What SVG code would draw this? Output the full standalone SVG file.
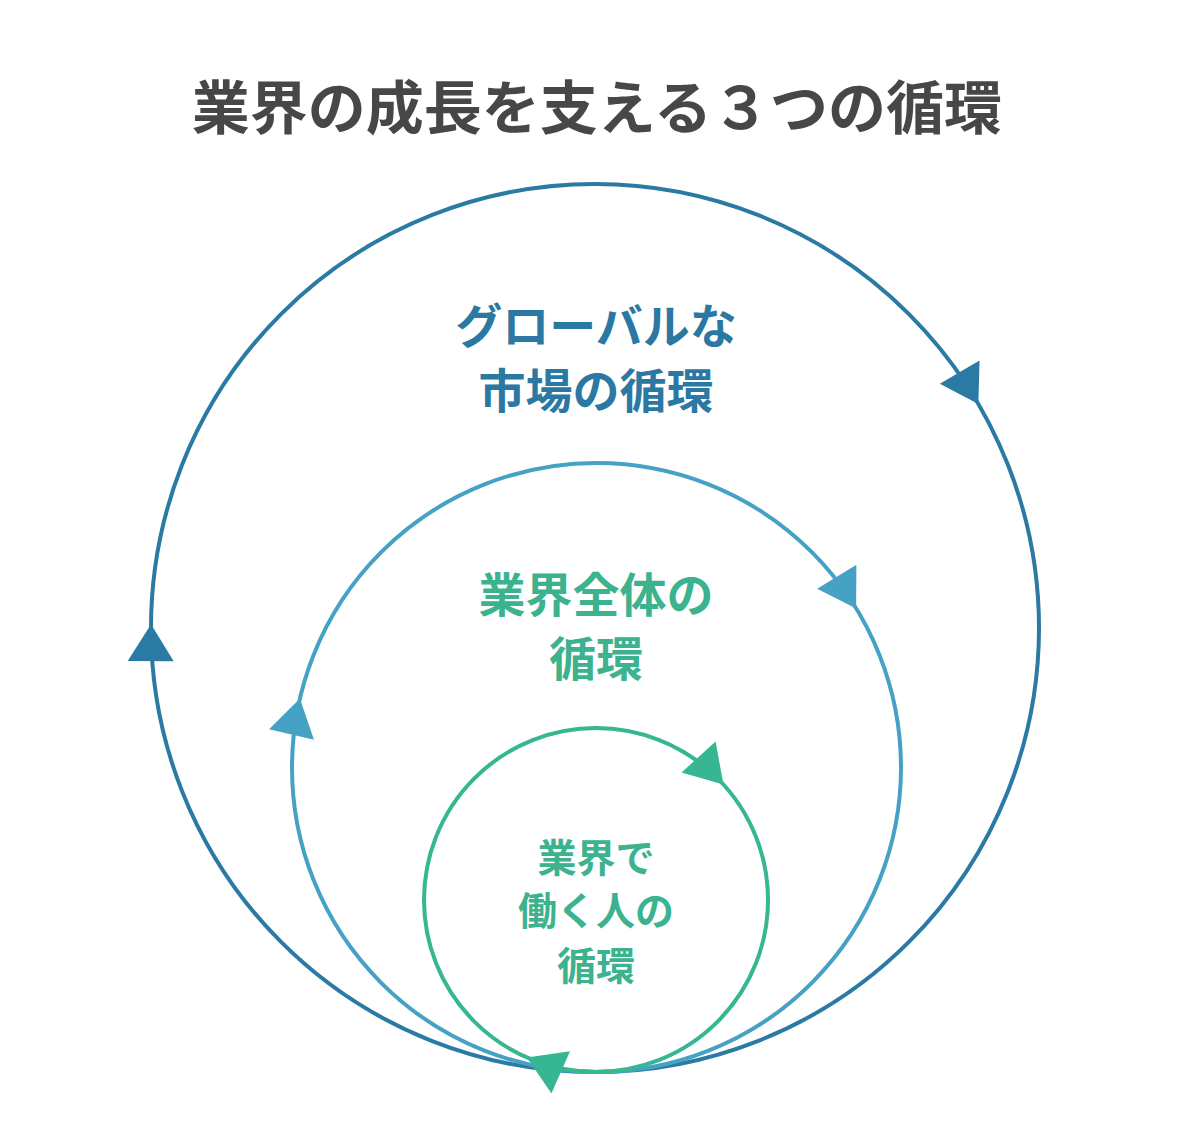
<svg xmlns="http://www.w3.org/2000/svg" width="1200" height="1122" viewBox="0 0 1200 1122">
  <style>
    .t { font-family: "Noto Sans CJK JP", "Noto Sans", sans-serif; font-weight: 700; text-anchor: middle; }
    .title { font-size: 58px; fill: #474747; }
    .outer-t { font-size: 47px; fill: #2b79a3; }
    .mid-t { font-size: 47px; fill: #3cb28e; }
    .inner-t { font-size: 39px; fill: #3cb28e; }
    .ring { fill: none; stroke-width: 4; }
  </style>
  <defs>
    <polygon id="tri" points="0,0 -37,-23 -37,23"/>
  </defs>
  <rect width="1200" height="1122" fill="#ffffff"/>

  <g id="title">
    <text class="t title" x="597" y="129">業界の成長を支える３つの循環</text>
  </g>

  <g id="connectors">
    <circle class="ring" cx="595" cy="628" r="444" stroke="#2b7aa4"/>
    <circle class="ring" cx="596.5" cy="767.5" r="304.5" stroke="#46a2c4"/>
    <circle class="ring" cx="596" cy="900" r="172" stroke="#36b692"/>
    <use href="#tri" fill="#2b7aa4" transform="translate(595,628) rotate(-30.3) translate(444,0) rotate(90)"/>
    <use href="#tri" fill="#2b7aa4" transform="translate(595,628) rotate(-179.5) translate(444,0) rotate(90)"/>
    <use href="#tri" fill="#46a2c4" transform="translate(596.5,767.5) rotate(-31.5) translate(304.5,0) rotate(90)"/>
    <use href="#tri" fill="#46a2c4" transform="translate(596.5,767.5) rotate(-166.9) translate(304.5,0) rotate(90)"/>
    <use href="#tri" fill="#36b692" transform="translate(596,900) rotate(-42.2) translate(172,0) rotate(90)"/>
    <use href="#tri" fill="#36b692" transform="translate(596,900) rotate(113.7) translate(172,0) rotate(90)"/>
  </g>

  <g id="node-global">
    <text class="t outer-t" x="596" y="343">グローバルな</text>
    <text class="t outer-t" x="596" y="408">市場の循環</text>
  </g>
  <g id="node-industry">
    <text class="t mid-t" x="596" y="612">業界全体の</text>
    <text class="t mid-t" x="596" y="676">循環</text>
  </g>
  <g id="node-people">
    <text class="t inner-t" x="596" y="872">業界で</text>
    <text class="t inner-t" x="596" y="925">働く人の</text>
    <text class="t inner-t" x="596" y="980">循環</text>
  </g>
</svg>
